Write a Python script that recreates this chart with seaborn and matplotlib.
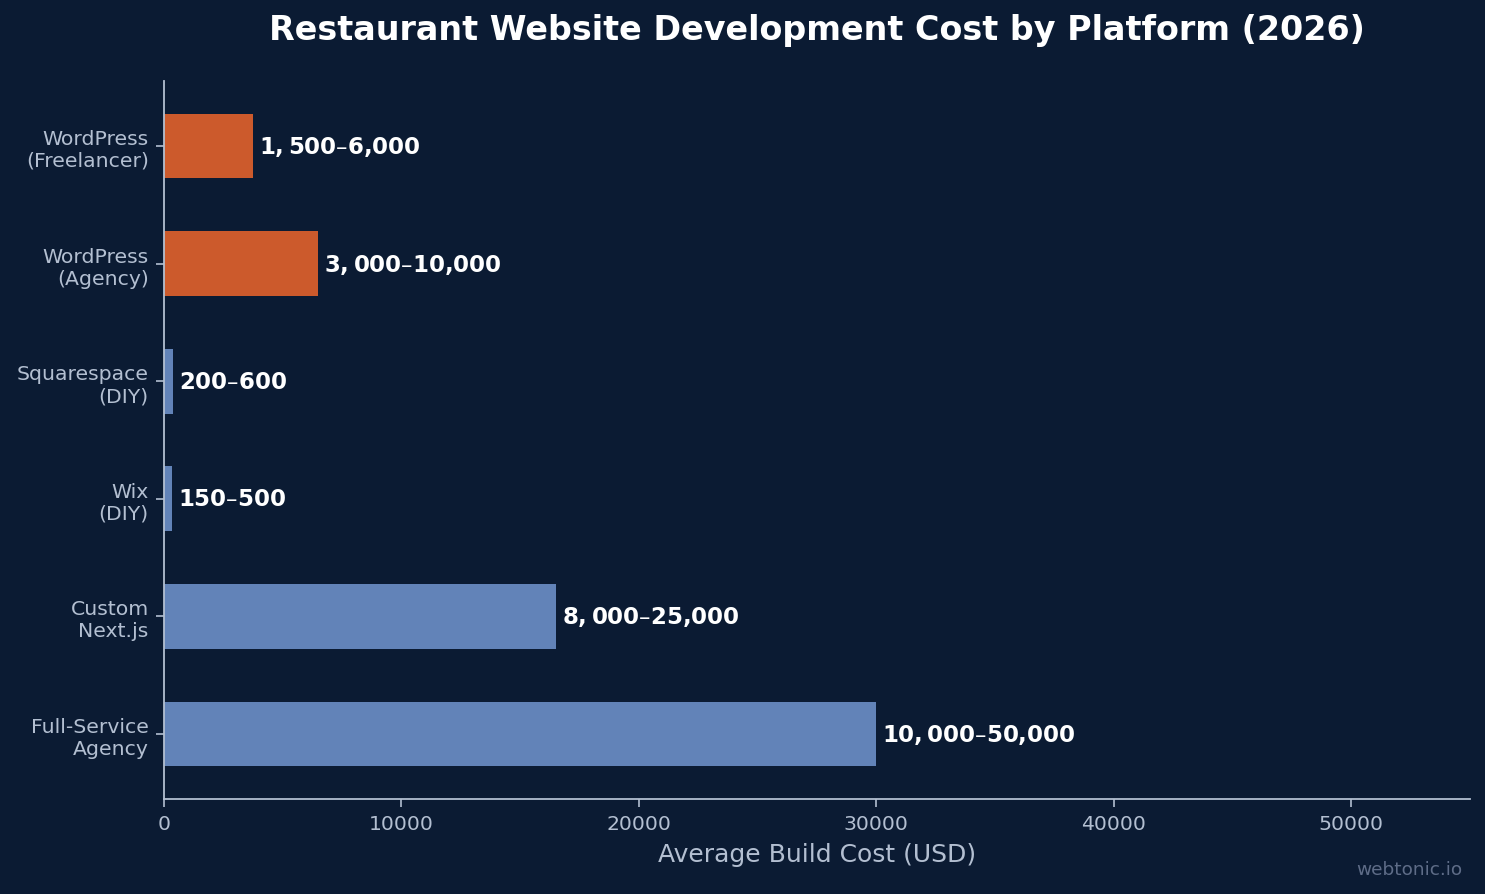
import matplotlib
matplotlib.use("Agg")
import matplotlib.pyplot as plt
import seaborn as sns
import pandas as pd

platforms = ["WordPress\n(Freelancer)", "WordPress\n(Agency)", "Squarespace\n(DIY)",
             "Wix\n(DIY)", "Custom\nNext.js", "Full-Service\nAgency"]
avg_cost = [3750, 6500, 400, 325, 16500, 30000]
range_labels = ["$1,500–$6,000", "$3,000–$10,000", "$200–$600",
                "$150–$500", "$8,000–$25,000", "$10,000–$50,000"]
group = ["wp", "wp", "other", "other", "other", "other"]

BG = "#0b1b33"
ORANGE = "#cc5a2c"
BLUE = "#6283b8"
TICK = "#b3bfd1"

sns.set_theme(style="white")
plt.rcParams["font.family"] = ["DejaVu Sans"]
plt.rcParams["mathtext.default"] = "bf"

df = pd.DataFrame({"platform": platforms, "cost": avg_cost, "group": group})

fig = plt.figure(figsize=(14.85, 8.95), dpi=100, facecolor=BG)
ax = fig.add_axes([164/1485, 1-800/895, (1470-164)/1485, (800-82)/895])
ax.set_facecolor(BG)

sns.barplot(data=df, y="platform", x="cost", hue="group", orient="h",
            palette={"wp": ORANGE, "other": BLUE}, width=0.55, dodge=False,
            legend=False, ax=ax, saturation=1, linewidth=0, edgecolor="none")

ax.set_xlim(0, 55000)
ax.set_ylim(5.5525, -0.5525)

for i, (v, lab) in enumerate(zip(avg_cost, range_labels)):
    ax.text(v + 250, i, lab, va="center", ha="left", color="white",
            fontsize=16.5, fontweight="bold")

ax.set_title("Restaurant Website Development Cost by Platform (2026)",
             color="white", fontsize=24, fontweight="bold", pad=30)
ax.set_xlabel("Average Build Cost (USD)", color=TICK, fontsize=18, labelpad=6)
ax.set_ylabel("")
ax.set_xticks([0, 10000, 20000, 30000, 40000, 50000])
ax.set_xticklabels(["0", "10000", "20000", "30000", "40000", "50000"])
ax.tick_params(axis="both", colors=TICK, labelsize=14.7, length=6, width=1.2,
               labelcolor=TICK, bottom=True, left=True, pad=5)
for s in ["top", "right"]:
    ax.spines[s].set_visible(False)
for s in ["left", "bottom"]:
    ax.spines[s].set_color(TICK)
    ax.spines[s].set_linewidth(1.3)

fig.text(1462/1485, 1-870/895, "webtonic.io", color="#5e6c87", fontsize=13.3,
         ha="right", va="center")

fig.savefig("out.png", dpi=100, facecolor=BG)
